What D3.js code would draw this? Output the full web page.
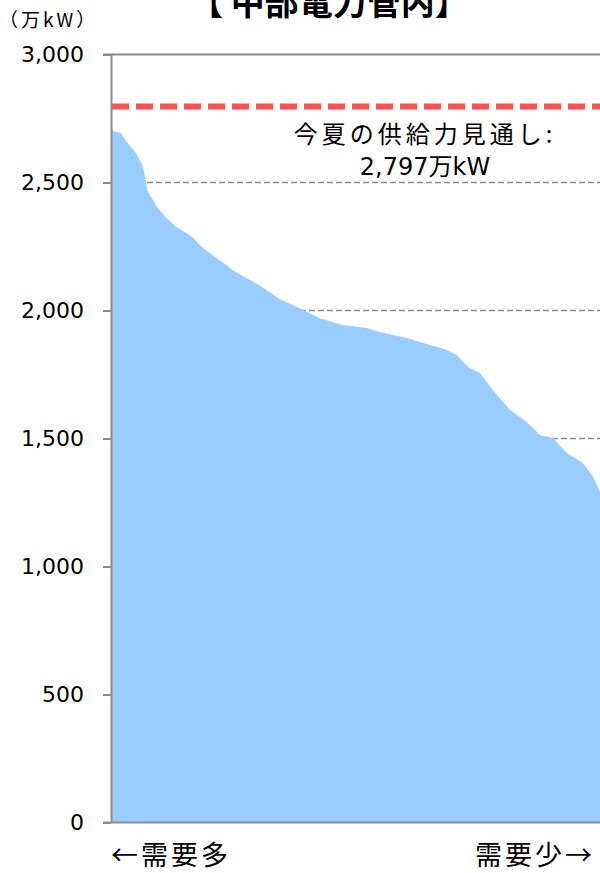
<!DOCTYPE html>
<html>
<head>
<meta charset="utf-8">
<script src="https://cdn.jsdelivr.net/npm/d3@7"></script>
<style>
  body { margin: 0; background: #fff; }
  text { font-family: "DejaVu Sans", "Noto Sans CJK JP", sans-serif; fill: #000; }
</style>
</head>
<body>
<div id="chart"></div>
<script>
const width = 600;
const height = 873;

// demand duration curve, ranked hours (visible part) vs demand in 万kW
const rankHours = [0, 4, 20, 27, 37, 51, 64, 70, 74, 82, 94, 113, 133, 154, 166, 186, 207, 236, 248, 273,
    299, 324, 344, 385, 426, 473, 523, 549, 605, 645, 682, 707, 730, 754, 781, 816, 850, 877, 904, 932,
    965, 986, 1000];
const demand = [2721, 2701, 2693, 2673, 2646, 2615, 2568, 2521, 2471, 2443, 2404, 2361, 2326, 2303, 2287, 2248, 2217, 2178, 2158, 2131,
    2104, 2072, 2045, 2010, 1971, 1943, 1932, 1916, 1893, 1869, 1850, 1826, 1779, 1756, 1689, 1611, 1564, 1514, 1502, 1443,
    1404, 1350, 1291];
const yTicks = [0, 500, 1000, 1500, 2000, 2500, 3000];
const supply = 2797;

const title = "【 中部電力管内】";
const unitLabel = "（万kW）";
const supplyLabel = ["今夏の供給力見通し:", "2,797万kW"];
const leftLabel = "←需要多";
const rightLabel = "需要少→";

const margin = { top: 54.5, left: 111, bottom: 873 - 822.5, right: 0 };

const data = rankHours.map((h, i) => ({ h: h, v: demand[i] }));

const xScale = d3.scaleLinear()
    .domain([0, 1000])
    .range([margin.left, width - margin.right]);

const yScale = d3.scaleLinear()
    .domain([0, 3000])
    .range([height - margin.bottom, margin.top]);

const svg = d3.select("#chart").append("svg")
    .attr("width", width)
    .attr("height", height);

// dashed gridlines
svg.append("g")
    .selectAll("line")
    .data(yTicks.filter(d => d > 0 && d < 3000))
    .join("line")
    .attr("x1", margin.left)
    .attr("x2", width)
    .attr("y1", d => yScale(d))
    .attr("y2", d => yScale(d))
    .attr("stroke", "#8c8c8c")
    .attr("stroke-width", 1.5)
    .attr("stroke-dasharray", "6,3");

// top border line
svg.append("line")
    .attr("x1", margin.left - 8)
    .attr("x2", width)
    .attr("y1", yScale(3000))
    .attr("y2", yScale(3000))
    .attr("stroke", "#8c8c8c")
    .attr("stroke-width", 2);

// area
const areaGenerator = d3.area()
    .x(d => xScale(d.h))
    .y0(yScale(0))
    .y1(d => yScale(d.v));

svg.append("path")
    .datum(data)
    .attr("fill", "#99ccff")
    .attr("d", areaGenerator);

// supply line
svg.append("line")
    .attr("x1", margin.left + 1)
    .attr("x2", width)
    .attr("y1", yScale(supply))
    .attr("y2", yScale(supply))
    .attr("stroke", "#ff5050")
    .attr("stroke-width", 6)
    .attr("stroke-dasharray", "17,7");

// y axis
const yAxis = d3.axisLeft(yScale)
    .tickValues(yTicks)
    .tickFormat(d3.format(","))
    .tickSizeInner(8)
    .tickSizeOuter(0)
    .tickPadding(19);

const ga = svg.append("g")
    .attr("transform", `translate(${margin.left},0)`)
    .call(yAxis);
ga.select(".domain").attr("stroke", "#8c8c8c").attr("stroke-width", 2);
ga.selectAll(".tick line").attr("stroke", "#8c8c8c").attr("stroke-width", 2);
ga.selectAll(".tick text")
    .attr("font-size", 22)
    .style("font-family", "'DejaVu Sans', sans-serif")
    .attr("fill", "#000");

// baseline
svg.append("line")
    .attr("x1", margin.left - 8)
    .attr("x2", width)
    .attr("y1", yScale(0))
    .attr("y2", yScale(0))
    .attr("stroke", "#8c8c8c")
    .attr("stroke-width", 2);

// texts
svg.append("text")
    .attr("x", 329)
    .attr("y", 15)
    .attr("text-anchor", "middle")
    .attr("font-size", 34)
    .attr("font-weight", "bold")
    .style("font-family", "'Noto Sans CJK JP', sans-serif")
    .text(title);

svg.append("text")
    .attr("x", -1)
    .attr("y", 27)
    .attr("font-size", 19)
    .attr("letter-spacing", 3)
    .style("font-family", "'Noto Sans CJK JP', sans-serif")
    .text(unitLabel);

svg.append("text")
    .attr("x", 425)
    .attr("y", 143)
    .attr("text-anchor", "middle")
    .attr("font-size", 24)
    .attr("letter-spacing", 4)
    .style("font-family", "'Noto Sans CJK JP', sans-serif")
    .text(supplyLabel[0]);

svg.append("text")
    .attr("x", 425)
    .attr("y", 175)
    .attr("text-anchor", "middle")
    .attr("font-size", 24)
    .text(supplyLabel[1]);

svg.append("text")
    .attr("x", 111)
    .attr("y", 865)
    .attr("font-size", 27)
    .attr("letter-spacing", 3)
    .style("font-family", "'Noto Sans CJK JP', sans-serif")
    .text(leftLabel);

svg.append("text")
    .attr("x", 595)
    .attr("y", 865)
    .attr("text-anchor", "end")
    .attr("font-size", 27)
    .attr("letter-spacing", 3)
    .style("font-family", "'Noto Sans CJK JP', sans-serif")
    .text(rightLabel);
</script>
</body>
</html>
